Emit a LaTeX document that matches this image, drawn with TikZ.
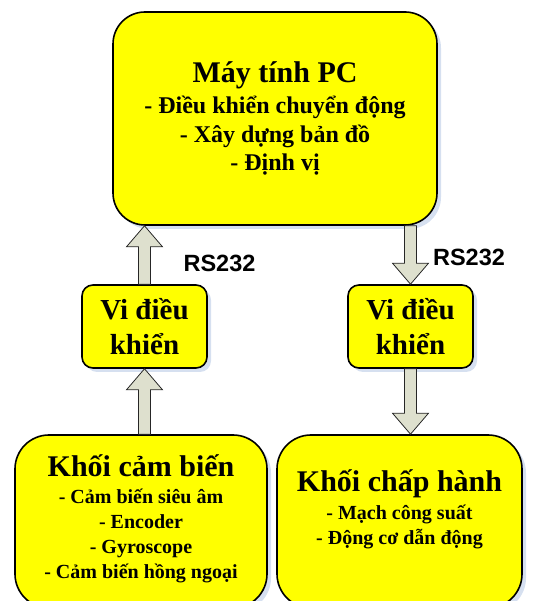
\documentclass[tikz,border=0pt]{standalone}
\usepackage{fontspec}
\setmainfont{Liberation Serif}
\newfontfamily\rsfont{Liberation Sans}
\usetikzlibrary{calc,positioning,shadows}

\definecolor{boxyellow}{RGB}{255,255,0}
\definecolor{shadowblue}{RGB}{214,224,240}
\definecolor{arrowgray}{RGB}{222,224,206}

\newcommand{\titlefont}{\fontsize{30}{34}\selectfont\bfseries}
\newcommand{\pcfont}{\fontsize{24}{28.5}\selectfont\bfseries}
\newcommand{\vdkfont}{\fontsize{29}{35}\selectfont\bfseries}
\newcommand{\listfont}{\fontsize{20}{25}\selectfont\bfseries}

\tikzset{
    box/.style={draw=black, line width=1.6pt, fill=boxyellow, rounded corners=#1,
        align=center, inner sep=0pt,
        drop shadow={shadow xshift=4pt, shadow yshift=-4pt, fill=shadowblue, opacity=1}},
    listtext/.style={align=center, inner sep=0pt, font=\listfont},
    rslabel/.style={font=\rsfont\fontsize{23.5}{28}\selectfont\bfseries, inner sep=0pt, anchor=base},
    arrowbody/.style={draw=black!85, line width=0.8pt, fill=arrowgray, line join=miter}
}

% block arrow from #1 to #2
\newcommand{\fatarrow}[2]{%
    \coordinate (fabase) at ($(#2)!21pt!(#1)$);
    \draw[arrowbody] ($(#1)!6pt!90:(#2)$) -- ($(fabase)!6pt!90:(#2)$)
        -- ($(fabase)!18pt!90:(#2)$) -- (#2) -- ($(fabase)!18pt!-90:(#2)$)
        -- ($(fabase)!6pt!-90:(#2)$) -- ($(#1)!6pt!-90:(#2)$) -- cycle;}

\begin{document}
\begin{tikzpicture}[x=1pt, y=1pt]
    \useasboundingbox (0,0) rectangle (533,601);
    \clip (0,0) rectangle (533,601);

    \node[box=32pt, minimum width=324pt, minimum height=213pt, font=\pcfont] (pc) at (275,482.5)
        {{\titlefont Máy tính PC}\\[3pt] - Điều khiển chuyển động\\ - Xây dựng bản đồ\\ - Định vị};

    \node[box=11pt, minimum width=125pt, minimum height=83pt, font=\vdkfont] (vdkL) at (144.5,274.5)
        {Vi điều\\ khiển};
    \node[box=11pt, minimum width=125pt, minimum height=83pt, font=\vdkfont] (vdkR) at (410.5,274.5)
        {Vi điều\\ khiển};

    \node[box=34pt, minimum width=252pt, minimum height=173pt] (sensor) at (141,79.5) {};
    \node[box=34pt, minimum width=245pt, minimum height=173pt] (act) at (399.5,79.5) {};

    \node[listtext, below=20pt of sensor.north] (sensortext)
        {{\titlefont Khối cảm biến}\\[2pt] - Cảm biến siêu âm\\ - Encoder\\ - Gyroscope\\ - Cảm biến hồng ngoại};
    \node[listtext, below=35pt of act.north] (acttext)
        {{\titlefont Khối chấp hành}\\[3pt] - Mạch công suất\\ - Động cơ dẫn động};

    \fatarrow{vdkL.north}{vdkL.north |- pc.south}
    \fatarrow{pc.south -| vdkR.north}{vdkR.north}
    \fatarrow{vdkL.south |- sensor.north}{vdkL.south}
    \fatarrow{vdkR.south}{vdkR.south |- act.north}

    \node[rslabel] (rsL) at (219.5,329) {RS232};
    \node[rslabel] (rsR) at (469,335) {RS232};
\end{tikzpicture}
\end{document}
